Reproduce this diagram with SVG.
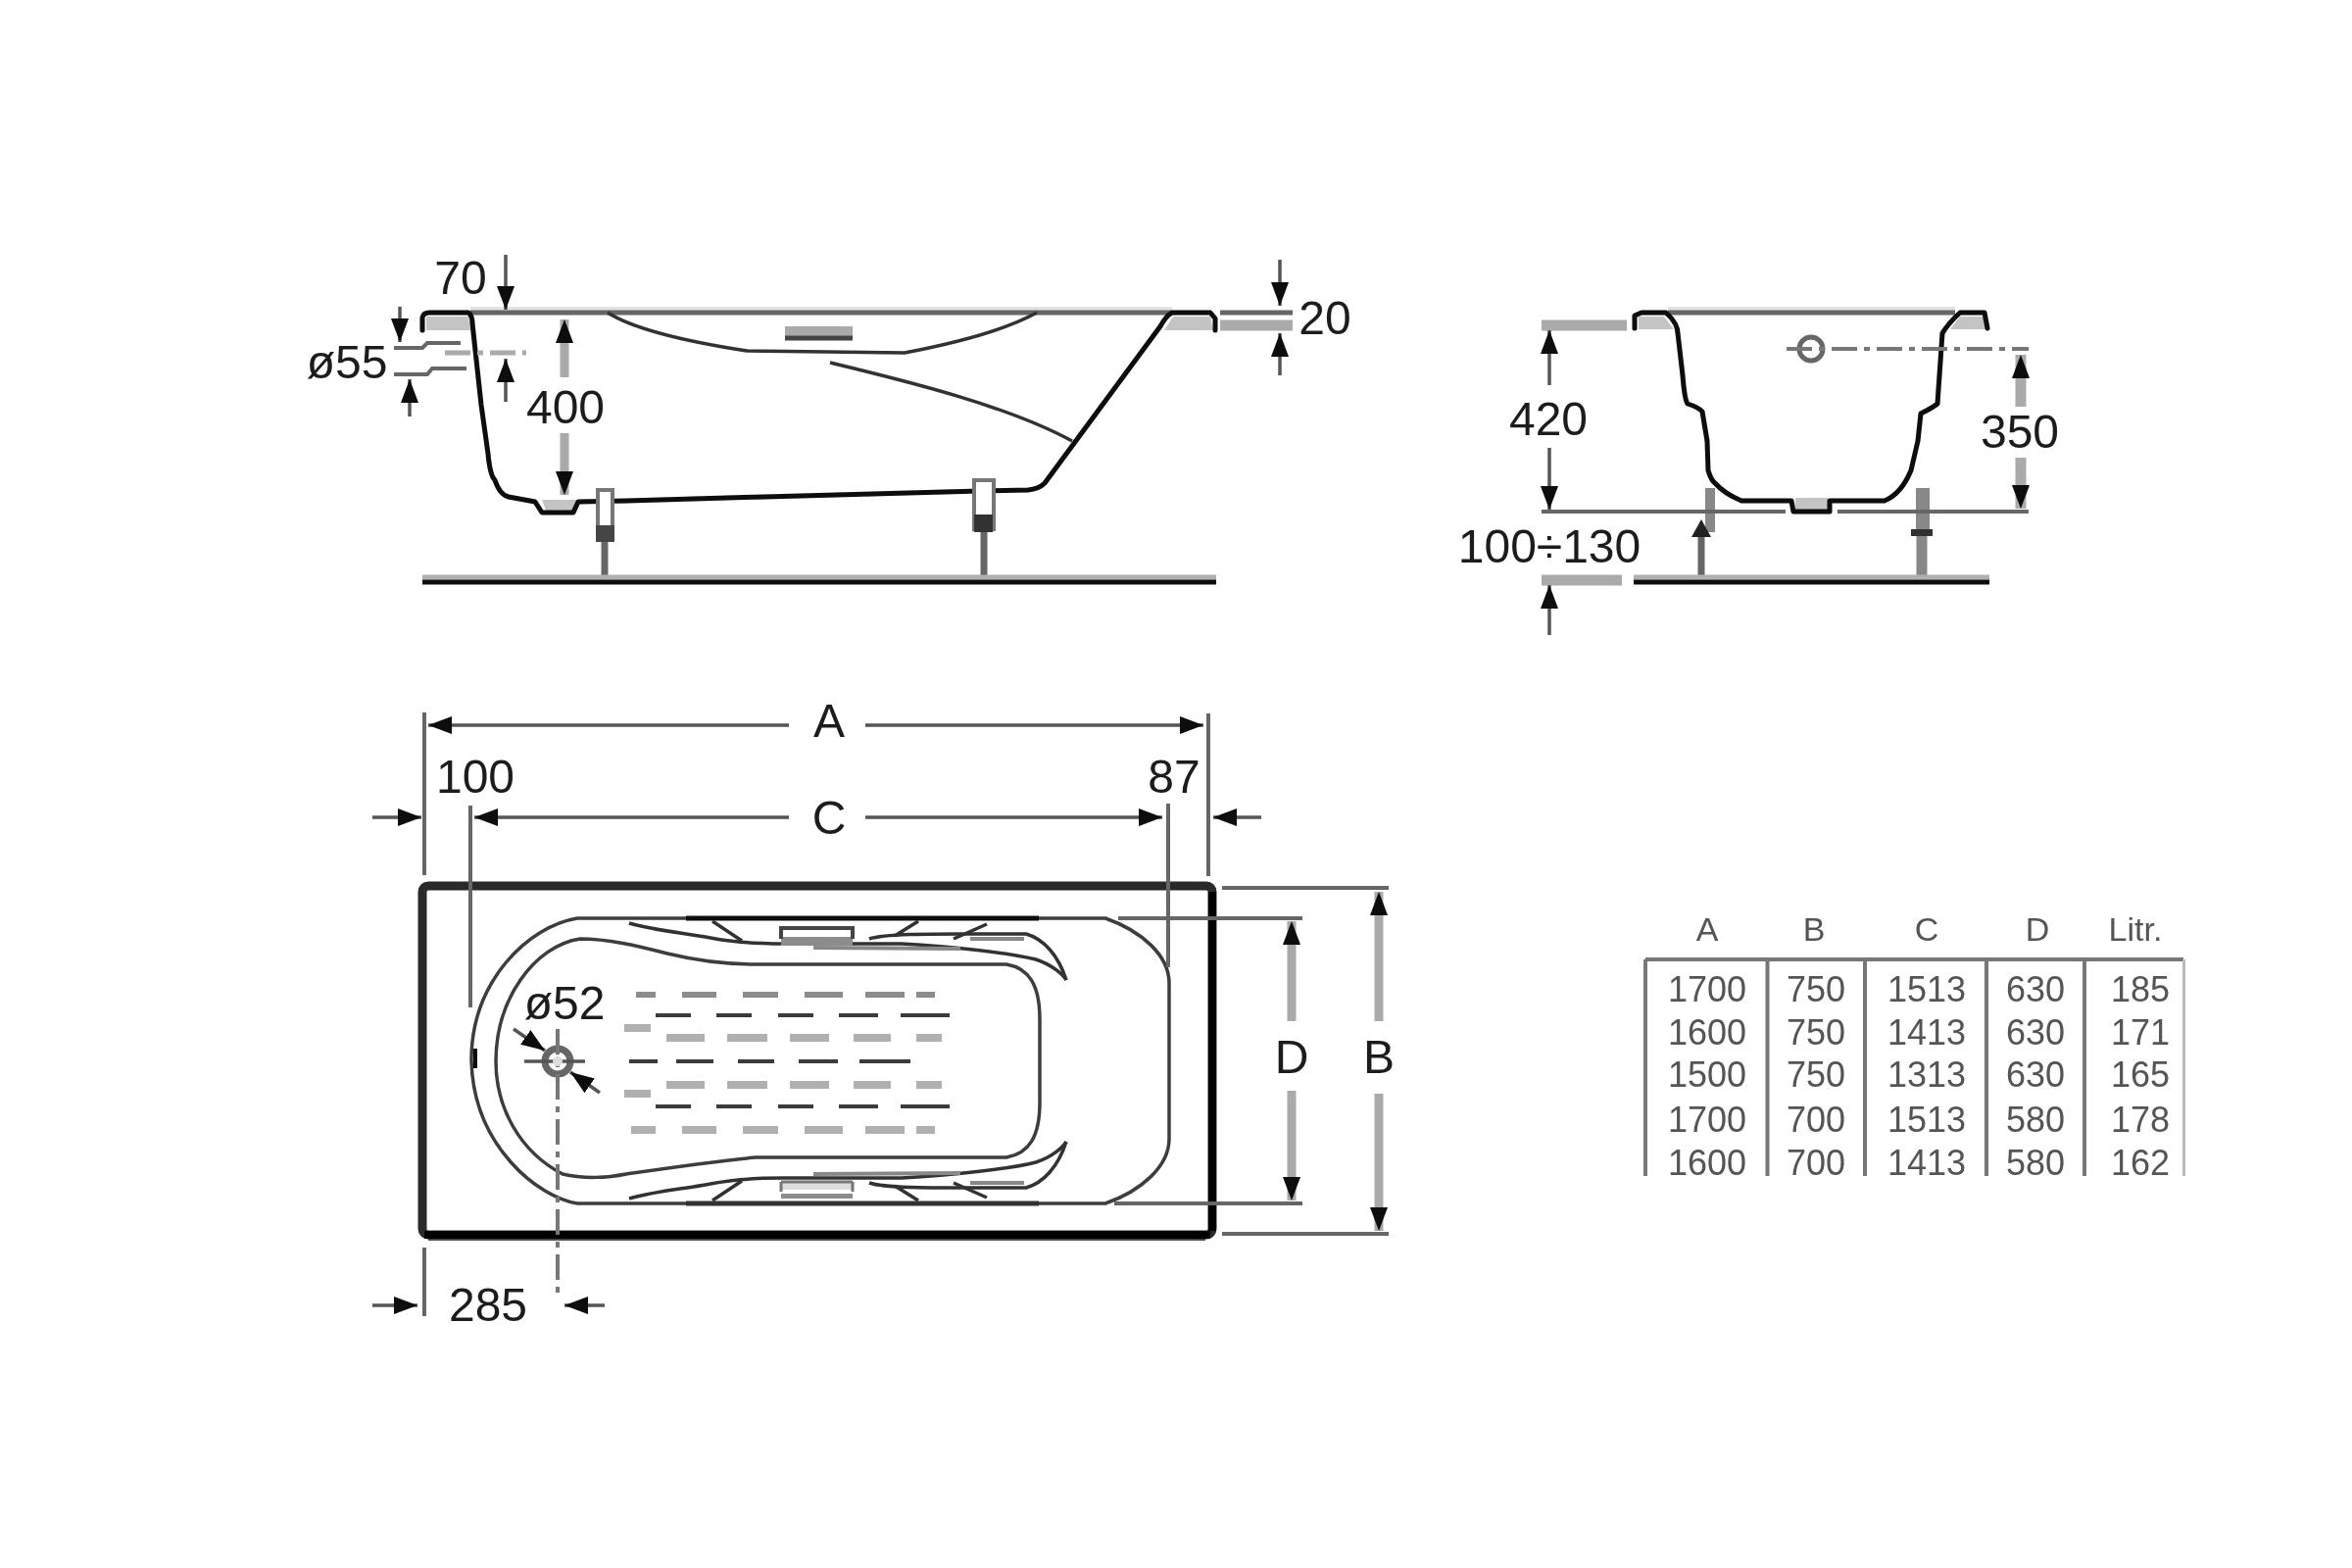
<svg xmlns="http://www.w3.org/2000/svg" xmlns:xlink="http://www.w3.org/1999/xlink" width="2400" height="1600" viewBox="0 0 2400 1600">
<style>
text{font-family:"Liberation Sans",Arial,sans-serif;font-size:48px;fill:#1c1c1c;text-anchor:middle}
.t{font-size:36px;fill:#555}
.th{font-size:34px;fill:#555}
line,path,polyline{fill:none}
.body{stroke:#0a0a0a;stroke-width:5;stroke-linejoin:round;stroke-linecap:round}
.top{stroke:#666;stroke-width:5}
.glow{stroke:#e2e2e2;stroke-width:4}
.lip{fill:#c4c4c4;stroke:none}
.dim{stroke:#555;stroke-width:3.5}
.ext{stroke:#666;stroke-width:4}
.light{stroke:#aaa;stroke-width:9}
.wide{stroke:#aaa;stroke-width:11}
.cl{stroke:#777;stroke-width:4;stroke-dasharray:26 7 6 7}
.a{marker-end:url(#h)}
.floorTop{stroke:#b0b0b0;stroke-width:5}
.floor{stroke:#111;stroke-width:5}
.leg{stroke:#777;stroke-width:4;fill:#fff}
.rod{stroke:#666;stroke-width:7}
.basin{stroke:#3c3c3c;stroke-width:3.5;fill:none}
.swirl{stroke:#333;stroke-width:3.5;stroke-linejoin:round}
.swirlL{stroke:#888;stroke-width:4}
.s1{stroke:#8c8c8c;stroke-width:6}
.s2{stroke:#3a3a3a;stroke-width:4}
.s3{stroke:#b0b0b0;stroke-width:8}
.grid{stroke:#777;stroke-width:4}
</style>
<defs>
<filter id="soft" x="0" y="0" width="100%" height="100%"><feGaussianBlur stdDeviation="0.7"/></filter>
<marker id="h" markerUnits="userSpaceOnUse" markerWidth="24" markerHeight="20" refX="24" refY="10" orient="auto">
<polygon points="0,1 24,10 0,19" fill="#0a0a0a"/>
</marker>
<clipPath id="tableClip"><rect x="1660" y="930" width="600" height="270"/></clipPath>
<g id="halfSwirl">
<path class="swirl" d="M642 942C670 950 700 952 725 957C750 962 770 963 800 963L920 963C970 966 1030 972 1057 979C1075 985 1085 995 1088 1000"/>
<path class="swirl" d="M887 958C905 952 960 953 1013 953L1047 953C1065 958 1080 975 1088 1000"/>
<path class="swirl" d="M727 940L757 960M937 940L913 955M1007 943L973 958"/>
<path class="swirlL" d="M830 967L980 968M990 958L1045 958"/>
</g>
</defs>
<rect width="2400" height="1600" fill="#fff"/>
<g id="drawing" filter="url(#soft)">

<g id="side-view">
<line class="glow" x1="480" y1="315" x2="1196" y2="315"/>
<polygon class="lip" points="435,323 478,323 480,337 435,337"/>
<polygon class="lip" points="1197,323 1235,323 1238,337 1188,337"/>
<polygon class="lip" points="553,510 590,510 585,521 557,521"/>
<line class="top" x1="480" y1="319" x2="1196" y2="319"/>
<path class="body" d="M431 337L431 324Q432 319 438 319L478 319Q482 322 482 330L491 413L498 463Q500 485 505 490Q510 505 519 507L546 512L553 523L585 523L590 512L640 511L780 507L1000 501L1049 500Q1060 499 1066 493L1184 333Q1190 322 1196 319L1235 319L1240 325L1240 337"/>
<path class="swirl" d="M620 319C650 338 710 350 762 358L923 360C965 352 1020 340 1058 319"/>
<path class="swirl" d="M847 370C930 390 1030 415 1094 450"/>
<rect x="801" y="333" width="69" height="14" fill="#aaa"/>
<line x1="801" y1="345" x2="870" y2="345" stroke="#444" stroke-width="5"/>
</g>
<g id="side-legs">
<rect class="leg" x="610" y="500" width="15" height="50"/>
<rect x="608" y="536" width="19" height="17" fill="#444"/>
<line class="rod" x1="617" y1="553" x2="617" y2="590"/>
<rect class="leg" x="994" y="490" width="20" height="50"/>
<rect x="994" y="525" width="19" height="18" fill="#333"/>
<line class="rod" x1="1004" y1="543" x2="1004" y2="590"/>
</g>
<g id="side-floor">
<line class="floorTop" x1="431" y1="589" x2="1241" y2="589"/>
<line class="floor" x1="431" y1="594" x2="1241" y2="594"/>
</g>

<g id="section-view">
<line class="glow" x1="1702" y1="315" x2="1995" y2="315"/>
<polygon class="lip" points="1672,323 1698,323 1708,336 1672,336"/>
<polygon class="lip" points="2000,323 2024,323 2026,336 1990,336"/>
<line class="top" x1="1702" y1="319" x2="1995" y2="319"/>
<polygon class="lip" points="1832,508 1865,508 1865,520 1832,520"/>
<path class="body" d="M1668 335L1668 322L1675 319L1700 319Q1712 330 1712 340L1717 383Q1719 408 1722 412Q1734 416 1737 420L1742 450L1743 480Q1746 490 1750 493Q1760 504 1777 511L1828 511L1830 522L1867 522L1867 511L1923 511Q1940 504 1950 480L1957 450L1960 422Q1972 416 1977 412L1982 340Q1988 330 2000 319L2025 319L2028 335"/>
<circle cx="1848" cy="356" r="12" fill="#fff" stroke="#666" stroke-width="5"/>
<line class="cl" x1="1823" y1="356" x2="2070" y2="356"/>
</g>
<g id="section-legs">
<rect x="1740" y="498" width="10" height="45" fill="#888"/>
<rect x="1955" y="498" width="14" height="47" fill="#888"/>
<line class="rod" x1="1736" y1="545" x2="1736" y2="590"/>
<line x1="1961" y1="545" x2="1961" y2="590" stroke="#888" stroke-width="11"/>
<polygon points="1736,530 1746,548 1726,548" fill="#222"/>
<rect x="1950" y="540" width="22" height="7" fill="#333"/>
</g>
<g id="section-floor">
<line class="floorTop" x1="1667" y1="589" x2="2030" y2="589"/>
<line class="floor" x1="1667" y1="594" x2="2030" y2="594"/>
</g>

<g id="plan-view">
<line x1="437" y1="1264" x2="1230" y2="1264" stroke="#555" stroke-width="4"/>
<rect x="431" y="904" width="806" height="356" rx="6" fill="none" stroke="#2c2c2c" stroke-width="9"/>
<line x1="433" y1="1260" x2="1235" y2="1260" stroke="#060606" stroke-width="8"/>
<line x1="1237" y1="910" x2="1237" y2="1256" stroke="#060606" stroke-width="8"/>
<path class="basin" d="M589 937L1128 937C1165 950 1193 975 1193 1003L1193 1162C1193 1190 1165 1215 1128 1228L589 1228C550 1222 483 1170 481 1082C481 1000 540 945 589 937Z"/>
<line x1="700" y1="937" x2="1060" y2="937" stroke="#111" stroke-width="5"/>
<line x1="700" y1="1228" x2="1060" y2="1228" stroke="#333" stroke-width="5"/>
<line x1="485" y1="1070" x2="485" y2="1090" stroke="#111" stroke-width="4"/>
<path class="basin" d="M1027 984C1050 988 1061 1005 1061 1040L1061 1125C1061 1160 1050 1177 1027 1181L771 1181C720 1186 680 1192 639 1198C620 1202 595 1203 574 1198C530 1175 506 1130 506 1083C506 1020 545 965 592 958C620 958 650 965 681 973C710 980 740 984 771 984Z"/>
<use xlink:href="#halfSwirl" href="#halfSwirl"/>
<use xlink:href="#halfSwirl" href="#halfSwirl" transform="matrix(1 0 0 -1 0 2165)"/>
</g>
<g id="plan-handles">
<rect x="797" y="956" width="73" height="9" fill="#8c8c8c"/>
<path d="M797 958L797 947L870 947L870 958" stroke="#444" stroke-width="4"/>
<rect x="797" y="1218" width="73" height="5" fill="#8c8c8c"/>
<rect x="797" y="1206" width="73" height="8" fill="#ddd"/>
<path d="M797 1206L870 1206M797 1206L797 1216M870 1206L870 1216" stroke="#777" stroke-width="3"/>
</g>
<g id="plan-grooves">
<path class="s1" d="M649 1015H669M696 1015H731M758 1015H794M821 1015H860M883 1015H923M935 1015H954"/>
<path class="s2" d="M669 1036H705M731 1036H767M794 1036H830M856 1036H896M919 1036H969"/>
<path class="s3" d="M637 1049H664M680 1059H719M742 1059H783M806 1059H846M871 1059H909M935 1059H961"/>
<path class="s2" d="M642 1083H671M690 1083H728M753 1083H790M815 1083H855M877 1083H929"/>
<path class="s3" d="M680 1107H719M742 1107H783M806 1107H846M871 1107H909M935 1107H961M637 1116H664"/>
<path class="s2" d="M669 1129H705M731 1129H767M794 1129H830M856 1129H896M919 1129H969"/>
<path class="s3" d="M644 1153H669M696 1153H731M758 1153H794M821 1153H860M883 1153H923M935 1153H954"/>
</g>
<g id="plan-drain">
<circle cx="569" cy="1083" r="13" fill="#fff" stroke="#666" stroke-width="7"/>
<line class="dim" x1="535" y1="1083" x2="597" y2="1083"/>
<line class="cl" x1="569" y1="1050" x2="569" y2="1323"/>
<circle cx="569" cy="1083" r="5" fill="#ddd"/>
</g>

<g id="connectors">
<line class="dim a" x1="516" y1="260" x2="516" y2="316"/>
<line class="dim a" x1="516" y1="410" x2="516" y2="366"/>
<line x1="454" y1="360" x2="537" y2="360" stroke="#aaa" stroke-width="5" stroke-dasharray="26 7 6 7"/>
<line class="dim a" x1="408" y1="313" x2="408" y2="349"/>
<line class="dim a" x1="418" y1="425" x2="418" y2="387"/>
<path class="ext" d="M402 355L431 355L436 350L470 350M402 382L436 382L441 376L476 376"/>
<line class="light a" x1="576" y1="385" x2="576" y2="326"/>
<line class="light a" x1="576" y1="442" x2="576" y2="505"/>
<line class="top" x1="1245" y1="319" x2="1319" y2="319"/>
<line class="wide" x1="1245" y1="332" x2="1319" y2="332"/>
<line class="dim a" x1="1306" y1="265" x2="1306" y2="312"/>
<line class="dim a" x1="1306" y1="383" x2="1306" y2="340"/>

<line class="wide" x1="1573" y1="332" x2="1660" y2="332"/>
<line class="dim a" x1="1581" y1="393" x2="1581" y2="337"/>
<line class="dim a" x1="1581" y1="457" x2="1581" y2="520"/>
<line class="ext" x1="1573" y1="522" x2="1822" y2="522"/>
<line class="ext" x1="1875" y1="522" x2="2070" y2="522"/>
<line class="wide" x1="1573" y1="592" x2="1655" y2="592"/>
<line class="dim a" x1="1581" y1="648" x2="1581" y2="597"/>
<line class="wide a" x1="2062" y1="415" x2="2062" y2="362"/>
<line class="wide a" x1="2062" y1="467" x2="2062" y2="519"/>

<line class="ext" x1="433" y1="727" x2="433" y2="893"/>
<line class="ext" x1="1233" y1="728" x2="1233" y2="894"/>
<line class="ext" x1="480" y1="822" x2="480" y2="1028"/>
<line class="ext" x1="1192" y1="820" x2="1192" y2="987"/>
<line class="dim a" x1="805" y1="740" x2="437" y2="740"/>
<line class="dim a" x1="883" y1="740" x2="1228" y2="740"/>
<line class="dim a" x1="805" y1="834" x2="484" y2="834"/>
<line class="dim a" x1="883" y1="834" x2="1186" y2="834"/>
<line class="dim a" x1="380" y1="834" x2="430" y2="834"/>
<line class="dim a" x1="1287" y1="834" x2="1238" y2="834"/>
<line class="ext" x1="433" y1="1273" x2="433" y2="1343"/>
<line class="dim a" x1="380" y1="1332" x2="426" y2="1332"/>
<line class="dim a" x1="617" y1="1332" x2="576" y2="1332"/>
<line class="dim a" x1="524" y1="1050" x2="556" y2="1072"/>
<line class="dim a" x1="612" y1="1115" x2="582" y2="1094"/>

<line class="ext" x1="1141" y1="937" x2="1329" y2="937"/>
<line class="ext" x1="1137" y1="1228" x2="1329" y2="1228"/>
<line class="ext" x1="1247" y1="906" x2="1417" y2="906"/>
<line class="ext" x1="1247" y1="1259" x2="1417" y2="1259"/>
<line class="light a" x1="1318" y1="1042" x2="1318" y2="940"/>
<line class="light a" x1="1318" y1="1113" x2="1318" y2="1225"/>
<line class="light a" x1="1407" y1="1042" x2="1407" y2="910"/>
<line class="light a" x1="1407" y1="1116" x2="1407" y2="1256"/>
</g>

<g id="labels">
<text x="470" y="300">70</text>
<text x="354" y="386">ø55</text>
<text x="577" y="432">400</text>
<text x="1352" y="341">20</text>
<text x="1580" y="444">420</text>
<text x="2061" y="457">350</text>
<text x="1581" y="574">100÷130</text>
<text x="846" y="752">A</text>
<text x="485" y="809">100</text>
<text x="1198" y="809">87</text>
<text x="846" y="851">C</text>
<text x="576" y="1040">ø52</text>
<text x="1318" y="1095">D</text>
<text x="1407" y="1095">B</text>
<text x="498" y="1348">285</text>
</g>

<g id="table" clip-path="url(#tableClip)">
<path class="grid" d="M1679 979H2228M1679 979V1203M1803.500 979V1203M1903 979V1203M2027 979V1203M2127 979V1203"/>
<line x1="2230" y1="979" x2="2230" y2="1203" stroke="#bbb" stroke-width="6"/>
<text class="th" x="1742" y="960">A</text><text class="th" x="1851" y="960">B</text><text class="th" x="1966" y="960">C</text><text class="th" x="2079" y="960">D</text><text class="th" x="2179" y="960">Litr.</text>
<text class="t" x="1742" y="1022">1700</text><text class="t" x="1853" y="1022">750</text><text class="t" x="1966" y="1022">1513</text><text class="t" x="2077" y="1022">630</text><text class="t" x="2184" y="1022">185</text>
<text class="t" x="1742" y="1066">1600</text><text class="t" x="1853" y="1066">750</text><text class="t" x="1966" y="1066">1413</text><text class="t" x="2077" y="1066">630</text><text class="t" x="2184" y="1066">171</text>
<text class="t" x="1742" y="1109">1500</text><text class="t" x="1853" y="1109">750</text><text class="t" x="1966" y="1109">1313</text><text class="t" x="2077" y="1109">630</text><text class="t" x="2184" y="1109">165</text>
<text class="t" x="1742" y="1155">1700</text><text class="t" x="1853" y="1155">700</text><text class="t" x="1966" y="1155">1513</text><text class="t" x="2077" y="1155">580</text><text class="t" x="2184" y="1155">178</text>
<text class="t" x="1742" y="1199">1600</text><text class="t" x="1853" y="1199">700</text><text class="t" x="1966" y="1199">1413</text><text class="t" x="2077" y="1199">580</text><text class="t" x="2184" y="1199">162</text>
</g>
</g>
</svg>
